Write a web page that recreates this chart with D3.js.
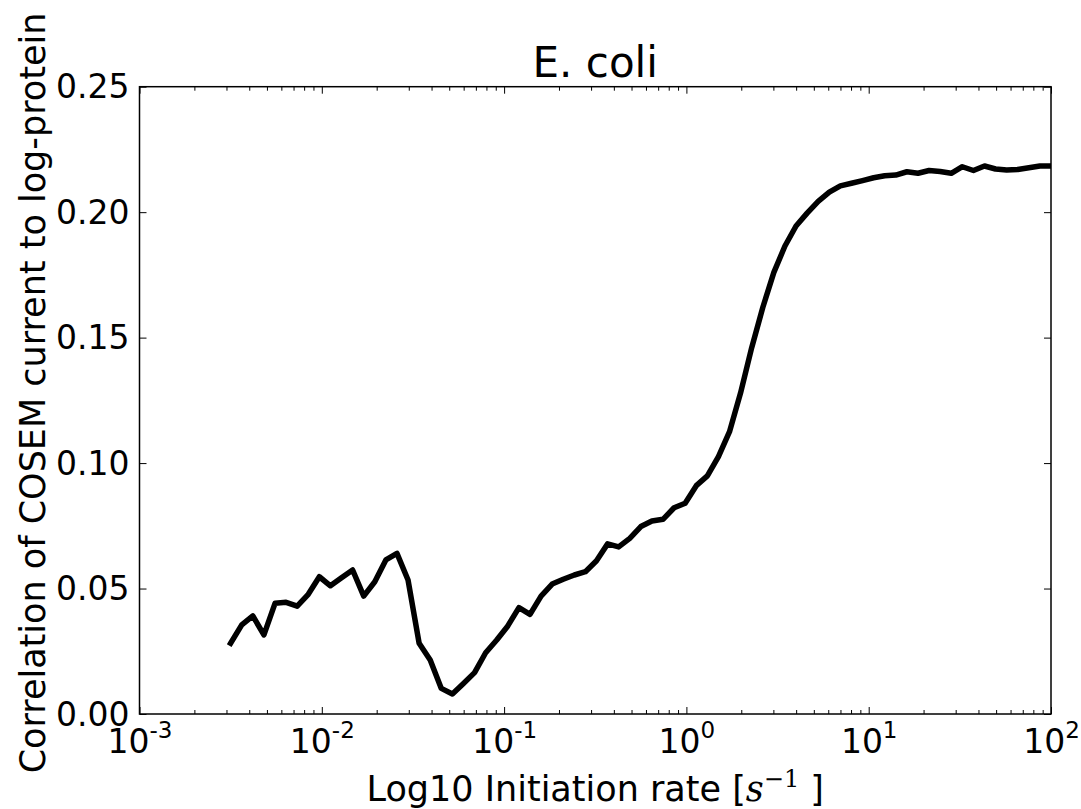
<!DOCTYPE html>
<html>
<head>
<meta charset="utf-8">
<script src="https://cdn.jsdelivr.net/npm/d3@7"></script>
<style>
  body { margin: 0; background: #fff; }
  svg { display: block; }
  text { font-family: "DejaVu Sans", sans-serif; fill: #000; }
</style>
</head>
<body>
<script>
// initiation rates (s^-1), log spaced as in the source plot
const rates = [0.003162, 0.003638, 0.004184, 0.004814, 0.005538, 0.006370, 0.007328, 0.008427, 0.009694,
  0.01115, 0.01283, 0.01476, 0.01698, 0.01953, 0.02246, 0.02584, 0.02972, 0.03419, 0.03933, 0.04524,
  0.05204, 0.05986, 0.06886, 0.07921, 0.09111, 0.1048, 0.1206, 0.1387, 0.1595, 0.1835, 0.2111, 0.2428,
  0.2793, 0.3213, 0.3696, 0.4251, 0.4890, 0.5623, 0.6469, 0.7441, 0.8559, 0.9845, 1.133, 1.303, 1.499,
  1.724, 1.983, 2.281, 2.624, 3.018, 3.472, 3.994, 4.594, 5.284, 6.079, 6.992, 8.043, 9.252, 10.64,
  12.24, 14.08, 16.20, 18.64, 21.44, 24.66, 28.37, 32.63, 37.53, 43.17, 49.66, 57.13, 65.72, 75.59,
  86.96, 100];

// correlation of COSEM current to log-protein
const correlation = [0.0282, 0.0355, 0.0391, 0.0315, 0.0441, 0.0445, 0.0430, 0.0477, 0.0547, 0.0511,
  0.0543, 0.0574, 0.0470, 0.0527, 0.0614, 0.0640, 0.0534, 0.0282, 0.0215, 0.0102, 0.0080, 0.0122,
  0.0165, 0.0244, 0.0295, 0.0351, 0.0424, 0.0397, 0.0470, 0.0518, 0.0537, 0.0554, 0.0567, 0.0611,
  0.0678, 0.0666, 0.0700, 0.0747, 0.0769, 0.0776, 0.0822, 0.0840, 0.0910, 0.0949, 0.1026, 0.1125,
  0.1280, 0.1460, 0.1620, 0.1760, 0.1865, 0.1945, 0.1996, 0.2043, 0.2080, 0.2105, 0.2115, 0.2126,
  0.2137, 0.2145, 0.2148, 0.2161, 0.2155, 0.2166, 0.2162, 0.2155, 0.2181, 0.2166, 0.2184, 0.2172,
  0.2168, 0.2170, 0.2177, 0.2184, 0.2184];

const xMajor = [1e-3, 1e-2, 1e-1, 1e0, 1e1, 1e2];
const xExponents = ["-3", "-2", "-1", "0", "1", "2"];
const yTicks = [0, 0.05, 0.10, 0.15, 0.20, 0.25];
const yTickLabels = ["0.00", "0.05", "0.10", "0.15", "0.20", "0.25"];

const W = 1081, H = 809;
const margin = {left: 139.5, top: 86.7, right: 1081 - 1051, bottom: 809 - 714};
const iw = W - margin.left - margin.right,
    ih = H - margin.top - margin.bottom;

const svg = d3.select("body").append("svg")
    .attr("width", W)
    .attr("height", H);

const g = svg.append("g")
    .attr("transform", `translate(${margin.left},${margin.top})`);

const x = d3.scaleLog().domain([1e-3, 1e2]).range([0, iw]);
const y = d3.scaleLinear().domain([0, 0.25]).range([ih, 0]);

// minor ticks from the log scale itself, dropping the decades
const xMinor = x.ticks().filter(v => !xMajor.some(m => Math.abs(m - v) / m < 1e-6));

g.append("clipPath").attr("id", "clip")
  .append("rect").attr("width", iw).attr("height", ih);

/* ------- LINE -------*/
const line = d3.line()
    .x((d, i) => x(rates[i]))
    .y(d => y(d));

g.append("path")
    .datum(correlation)
    .attr("clip-path", "url(#clip)")
    .attr("d", line)
    .attr("fill", "none")
    .attr("stroke", "#000")
    .attr("stroke-width", 5.5)
    .attr("stroke-linejoin", "round")
    .attr("stroke-linecap", "square");

/* ------- AXES (ticks inside, all four sides) -------*/
function styleAxis(sel) {
  sel.select(".domain").remove();
  sel.selectAll(".tick line").attr("stroke", "#000").attr("stroke-width", 1);
}

g.append("g").attr("transform", `translate(0,${ih})`)
  .call(d3.axisBottom(x).tickValues(xMinor).tickSize(-4).tickFormat(""))
  .call(styleAxis);
g.append("g")
  .call(d3.axisTop(x).tickValues(xMinor).tickSize(-4).tickFormat(""))
  .call(styleAxis);
g.append("g")
  .call(d3.axisTop(x).tickValues(xMajor).tickSize(-7).tickFormat(""))
  .call(styleAxis);

const gx = g.append("g").attr("transform", `translate(0,${ih})`)
  .call(d3.axisBottom(x).tickValues(xMajor).tickSize(-7).tickFormat(""))
  .call(styleAxis);

gx.selectAll(".tick text").each(function(d, i) {
  const t = d3.select(this)
      .attr("y", 39)
      .attr("dy", null)
      .attr("font-size", 33)
      .attr("text-anchor", "middle")
      .attr("fill", "#000");
  t.append("tspan").text("10");
  t.append("tspan").attr("dy", -15).attr("font-size", 23).text(xExponents[i]);
});

const gy = g.append("g")
  .call(d3.axisLeft(y).tickValues(yTicks).tickSize(-7)
    .tickFormat((d, i) => yTickLabels[i]).tickPadding(10))
  .call(styleAxis);
gy.selectAll(".tick text")
    .attr("font-size", 33)
    .attr("font-family", "DejaVu Sans")
    .attr("fill", "#000")
    .attr("dy", "0.34em");

g.append("g").attr("transform", `translate(${iw},0)`)
  .call(d3.axisRight(y).tickValues(yTicks).tickSize(-7).tickFormat(""))
  .call(styleAxis);

// frame
g.append("rect")
    .attr("width", iw)
    .attr("height", ih)
    .attr("fill", "none")
    .attr("stroke", "#000")
    .attr("stroke-width", 1.5);

/* ------- TEXT -------*/
svg.append("text")
    .attr("x", margin.left + iw / 2)
    .attr("y", 77)
    .attr("text-anchor", "middle")
    .attr("font-size", 42)
    .text("E. coli");

const xl = svg.append("text")
    .attr("x", margin.left + iw / 2)
    .attr("y", 801)
    .attr("text-anchor", "middle")
    .attr("font-size", 35);
xl.append("tspan").text("Log10 Initiation rate [");
xl.append("tspan").attr("font-family", "DejaVu Serif").attr("font-style", "italic").text("s");
xl.append("tspan").attr("dy", -14).attr("font-size", 24).attr("font-family", "DejaVu Serif").text("\u22121");
xl.append("tspan").attr("dy", 14).text(" ]");

svg.append("text")
    .attr("transform", "translate(45,393) rotate(-90)")
    .attr("text-anchor", "middle")
    .attr("font-size", 35)
    .text("Correlation of COSEM current to log-protein");
</script>
</body>
</html>
